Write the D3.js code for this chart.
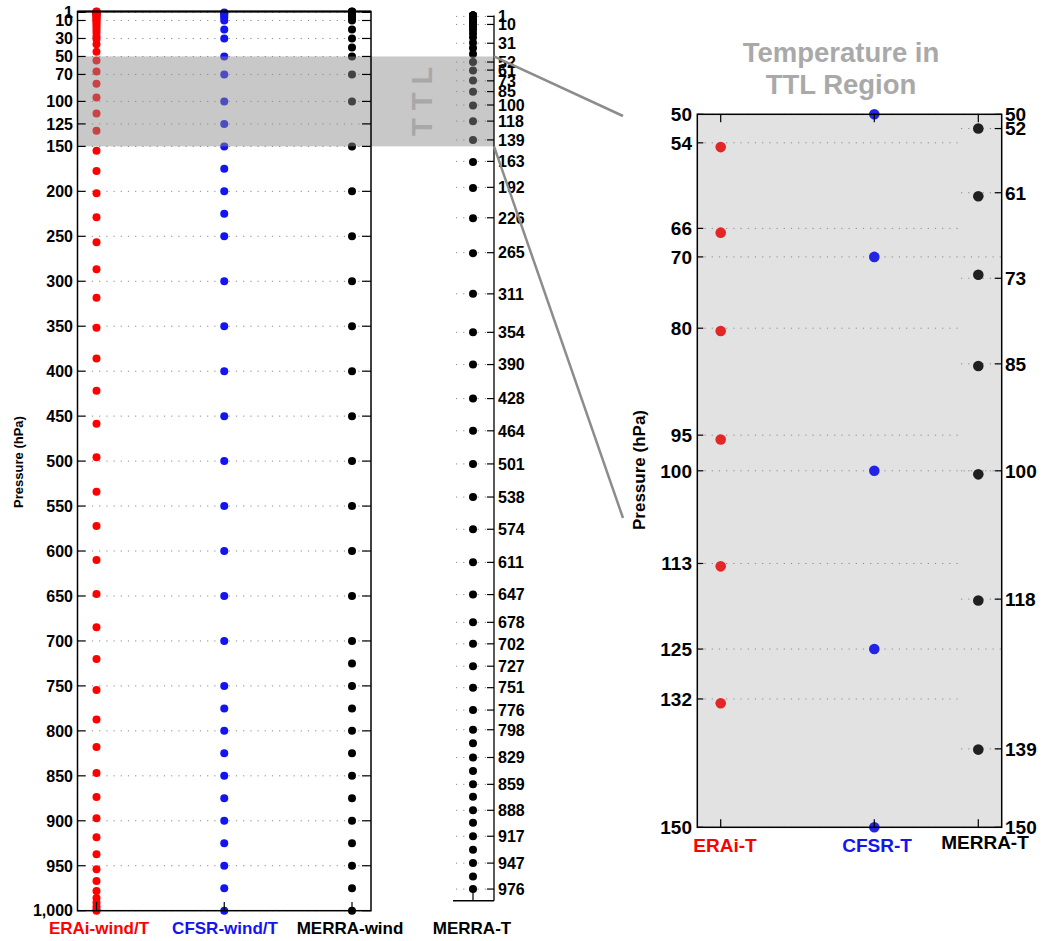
<!DOCTYPE html>
<html><head><meta charset="utf-8">
<script src="https://cdn.jsdelivr.net/npm/d3@7/dist/d3.min.js"></script>
<style>body{margin:0;background:#fff}svg{display:block;font-family:"Liberation Sans",Arial,sans-serif;font-weight:bold}</style>
</head><body><svg id="c" width="1042" height="941"></svg>
<script>
// ---- data ----
const mainColumns = ["ERAi-wind/T","CFSR-wind/T","MERRA-wind"];
const eraiLevels = [0.1,0.29,0.51,0.8,1.15,1.58,2.08,2.67,3.36,4.17,5.12,6.22,7.5,8.99,10.71,12.69,14.95,17.52,20.44,23.73,27.43,30.5,36.5,44.7,54.6,66.6,80.4,95.6,113.4,132.6,154.8,177.4,202.2,228.9,256.7,286.7,318.3,351.6,386,421.7,458.4,495.8,534,572.2,610,647.8,684.8,720,754.6,787.3,818,846.9,873.6,897.3,918.4,937.3,954,967,978,986,991,995,998.5,1000];
const cfsrLevels = [1,2,3,5,7,10,20,30,50,70,100,125,150,175,200,225,250,300,350,400,450,500,550,600,650,700,750,775,800,825,850,875,900,925,950,975,1000];
const merraWindLevels = [0.1,0.3,0.4,0.5,0.7,1,2,3,4,5,7,10,20,30,40,50,70,100,150,200,250,300,350,400,450,500,550,600,650,700,725,750,775,800,825,850,875,900,925,950,975,1000];
const merraTLevels = [0.015,0.026,0.04,0.062,0.095,0.145,0.222,0.339,0.519,0.795,1.21,1.81,2.65,3.78,5.28,7.18,9.55,12.44,15.78,19.72,24.36,30.4,36.3,43.1,52.0,61.5,72.5,85.3,100.5,118.2,139.1,163.7,192.6,226.5,265.5,311,354,390,428,464,501,538,574,611,647,678,702,727,751,776,798,813,829,844,859,873,888,902,917,932,947,962,976];
const mainTicks = [1,10,30,50,70,100,125,150,200,250,300,350,400,450,500,550,600,650,700,750,800,850,900,950,1000];
const merraTTicks = [1,10,31,52,61,73,85,100,118,139,163,192,226,265,311,354,390,428,464,501,538,574,611,647,678,702,727,751,776,798,829,859,888,917,947,976];
const ttlRange = [50,150];
const insetColumns = ["ERAi-T","CFSR-T","MERRA-T"];
const insetErai = [54.6,66.6,80.4,95.6,113.4,132.6];
const insetCfsr = [50,70,100,125,150];
const insetMerra = [52.0,61.5,72.5,85.3,100.5,118.2,139.1];
const insetLeftTicks = [50,54,66,70,80,95,100,113,125,132,150];
const insetRightTicks = [50,52,61,73,85,100,118,139,150];
const eraiGridTicks = [54,66,80,95,113,132];
const cfsrGridTicks = [50,70,100,125,150];
const merraGridTicks = [52,61,73,85,100,118,139];

const svg = d3.select("#c");
const fmt = d3.format(",");
const RED="#ff0000", BLUE="#1414f0", BLACK="#000";

// ---- main panel ----
const L=77.5, R=371;
const y = d3.scaleLinear().domain([0,1000]).range([11.5,910.7]);
const x = d3.scalePoint().domain(mainColumns).range([96.5,352]);
const gMain = svg.append("g");
gMain.selectAll("line.grid").data(mainTicks).join("line")
  .attr("x1",L).attr("x2",R).attr("y1",d=>y(d)).attr("y2",d=>y(d))
  .attr("stroke","#8a8a8a").attr("stroke-width",1).attr("stroke-dasharray","1.2,6");
const series = [[eraiLevels,RED,mainColumns[0]],[cfsrLevels,BLUE,mainColumns[1]],[merraWindLevels,BLACK,mainColumns[2]]];
series.forEach(([lv,col,name])=>{
  gMain.append("g").selectAll("circle").data(lv).join("circle")
    .attr("cx",x(name)).attr("cy",d=>y(d)).attr("r",4).attr("fill",col);
});

// ---- MERRA-T panel ----
const yT = d3.scaleLinear().domain([0,989]).range([15.5,900.7]);
const xT = 473, axT = 494;
const gT = svg.append("g");
gT.selectAll("line.grid").data(merraTTicks).join("line")
  .attr("x1",456).attr("x2",487).attr("y1",d=>yT(d)).attr("y2",d=>yT(d))
  .attr("stroke","#8a8a8a").attr("stroke-width",1).attr("stroke-dasharray","1.2,6");
gT.selectAll("circle").data(merraTLevels).join("circle")
  .attr("cx",xT).attr("cy",d=>yT(d)).attr("r",4).attr("fill",BLACK);

// ---- TTL band (semi-transparent overlay) ----
svg.append("rect").attr("x",L).attr("y",y(ttlRange[0])).attr("width",axT-L).attr("height",y(ttlRange[1])-y(ttlRange[0]))
  .attr("fill","rgb(141,141,141)").attr("fill-opacity",0.48);
svg.append("text").attr("transform",`translate(432,${(y(50)+y(150))/2}) rotate(-90)`)
  .attr("text-anchor","middle").attr("font-size",29).attr("fill","#a8a8a8").text("T T L");

// main axes
const ax = svg.append("g").attr("stroke","#000").attr("fill","none");
ax.append("rect").attr("x",L).attr("y",11.5).attr("width",R-L).attr("height",910.7-11.5).attr("stroke-width",1.5);
ax.append("line").attr("x1",L).attr("x2",R).attr("y1",11.5).attr("y2",11.5).attr("stroke-width",2.2);
mainTicks.forEach(t=>{
  ax.append("line").attr("x1",L).attr("x2",L+8).attr("y1",y(t)).attr("y2",y(t)).attr("stroke-width",1.2);
  ax.append("line").attr("x1",R-9).attr("x2",R).attr("y1",y(t)).attr("y2",y(t)).attr("stroke-width",1.2);
});
mainColumns.forEach(c=>{
  ax.append("line").attr("x1",x(c)).attr("x2",x(c)).attr("y1",910.7).attr("y2",902).attr("stroke-width",1.2);
});
svg.append("g").selectAll("text").data(mainTicks).join("text")
  .attr("x",73).attr("y",d=>y(d)).attr("dy","0.36em").attr("text-anchor","end").attr("font-size",16).text(d=>fmt(d));

// MERRA-T axis
ax.append("line").attr("x1",axT).attr("x2",axT).attr("y1",yT(0)).attr("y2",900.7).attr("stroke-width",1.3);
ax.append("line").attr("x1",453).attr("x2",axT).attr("y1",900.7).attr("y2",900.7).attr("stroke-width",1.5);
ax.append("line").attr("x1",xT).attr("x2",xT).attr("y1",900.7).attr("y2",892).attr("stroke-width",1.2);
merraTTicks.forEach(t=>{
  ax.append("line").attr("x1",axT-7).attr("x2",axT).attr("y1",yT(t)).attr("y2",yT(t)).attr("stroke-width",1.2);
});
svg.append("g").selectAll("text").data(merraTTicks).join("text")
  .attr("x",498).attr("y",d=>yT(d)).attr("dy","0.36em").attr("font-size",16).text(d=>fmt(d));

// main x labels
const mainLabels = [["ERAi-wind/T",99,RED],["CFSR-wind/T",225,BLUE],["MERRA-wind",350,BLACK],["MERRA-T",472,BLACK]];
svg.append("g").selectAll("text").data(mainLabels).join("text")
  .attr("x",d=>d[1]).attr("y",934).attr("text-anchor","middle").attr("font-size",17).attr("fill",d=>d[2]).text(d=>d[0]);
svg.append("text").attr("transform","translate(23,462) rotate(-90)").attr("text-anchor","middle").attr("font-size",13).text("Pressure (hPa)");

// connector lines
const cl = svg.append("g").attr("stroke","#8c8c8c").attr("stroke-width",2.5);
cl.append("line").attr("x1",494).attr("y1",y(50)).attr("x2",623).attr("y2",116);
cl.append("line").attr("x1",494).attr("y1",y(150)).attr("x2",623).attr("y2",518);

// ---- inset ----
const IL=697.3, IR=1001.7;
const yi = d3.scaleLinear().domain([50,150]).range([114.3,827.3]);
const xi = d3.scaleOrdinal().domain(insetColumns).range([720.7,874.3,978.3]);
const gi = svg.append("g");
gi.append("rect").attr("x",IL).attr("y",yi(50)).attr("width",IR-IL).attr("height",yi(150)-yi(50)).attr("fill","#e2e2e2");
const dash = g=>g.attr("stroke","#8a8a8a").attr("stroke-width",1).attr("stroke-dasharray","1.2,6");
gi.append("g").selectAll("line").data(eraiGridTicks).join("line").attr("x1",IL).attr("x2",958).attr("y1",d=>yi(d)).attr("y2",d=>yi(d)).call(dash);
gi.append("g").selectAll("line").data(cfsrGridTicks).join("line").attr("x1",IL).attr("x2",IR).attr("y1",d=>yi(d)).attr("y2",d=>yi(d)).call(dash);
gi.append("g").selectAll("line").data(merraGridTicks).join("line").attr("x1",961).attr("x2",IR).attr("y1",d=>yi(d)).attr("y2",d=>yi(d)).call(dash);
const insetSeries = [[insetErai,"#e32626","ERAi-T"],[insetCfsr,"#2424e6","CFSR-T"],[insetMerra,"#202020","MERRA-T"]];
insetSeries.forEach(([lv,col,name])=>{
  gi.append("g").selectAll("circle").data(lv).join("circle").attr("cx",xi(name)).attr("cy",d=>yi(d)).attr("r",5.3).attr("fill",col);
});
const ia = svg.append("g").attr("stroke","#000").attr("fill","none");
ia.append("rect").attr("x",IL).attr("y",yi(50)).attr("width",IR-IL).attr("height",yi(150)-yi(50)).attr("stroke-width",1.5);
insetLeftTicks.forEach(t=>ia.append("line").attr("x1",IL).attr("x2",IL+6).attr("y1",yi(t)).attr("y2",yi(t)).attr("stroke-width",1.2));
insetRightTicks.forEach(t=>ia.append("line").attr("x1",IR-7).attr("x2",IR).attr("y1",yi(t)).attr("y2",yi(t)).attr("stroke-width",1.2));
insetColumns.forEach(c=>{
  ia.append("line").attr("x1",xi(c)).attr("x2",xi(c)).attr("y1",yi(50)).attr("y2",yi(50)+8).attr("stroke-width",1.2);
  ia.append("line").attr("x1",xi(c)).attr("x2",xi(c)).attr("y1",yi(150)).attr("y2",yi(150)-8).attr("stroke-width",1.2);
});
svg.append("g").selectAll("text").data(insetLeftTicks).join("text")
  .attr("x",692).attr("y",d=>yi(d)).attr("dy","0.36em").attr("text-anchor","end").attr("font-size",19).text(d=>d);
svg.append("g").selectAll("text").data(insetRightTicks).join("text")
  .attr("x",1005).attr("y",d=>yi(d)).attr("dy","0.36em").attr("font-size",19).text(d=>d);
const insetLabels = [["ERAi-T",725,852,RED],["CFSR-T",877,852,BLUE],["MERRA-T",985,849,BLACK]];
svg.append("g").selectAll("text").data(insetLabels).join("text")
  .attr("x",d=>d[1]).attr("y",d=>d[2]).attr("text-anchor","middle").attr("font-size",19).attr("fill",d=>d[3]).text(d=>d[0]);
svg.append("text").attr("transform","translate(645,470) rotate(-90)").attr("text-anchor","middle").attr("font-size",17).text("Pressure (hPa)");
const title = svg.append("text").attr("text-anchor","middle").attr("font-size",27.5).attr("fill","#a9a9a9");
title.append("tspan").attr("x",841).attr("y",62).text("Temperature in");
title.append("tspan").attr("x",841).attr("y",94).text("TTL Region");
</script></body></html>
